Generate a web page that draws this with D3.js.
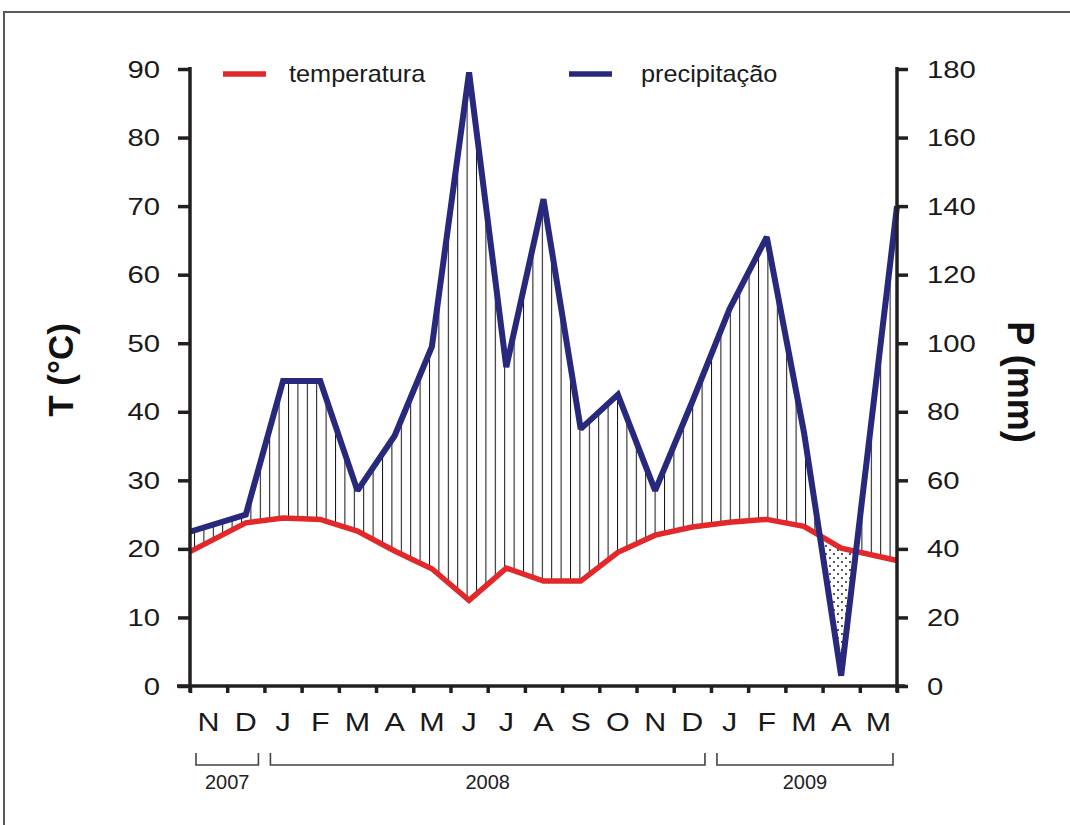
<!DOCTYPE html>
<html>
<head>
<meta charset="utf-8">
<script src="https://cdn.jsdelivr.net/npm/d3@7"></script>
<style>
  html, body { margin: 0; padding: 0; background: #fff; }
  svg { display: block; font-family: "Liberation Sans", Arial, sans-serif; }
</style>
</head>
<body>
<svg id="chart" width="1070" height="825"></svg>
<script>
// Month labels along the time axis (Nov 2007 – May 2009)
const monthLabels = ["N","D","J","F","M","A","M","J","J","A","S","O","N","D","J","F","M","A","M"];

// Observation times in months from the start of Nov 2007
// (series open and close on the axes, monthly values sit mid-month)
const obsTime = [0, 1.5, 2.5, 3.5, 4.5, 5.5, 6.5, 7.5, 8.5, 9.5, 10.5, 11.5, 12.5, 13.5, 14.5, 15.5, 16.5, 17.5, 19];

// Mean temperature (°C)
const temperature = [19.6, 23.8, 24.5, 24.3, 22.6, 19.7, 17.1, 12.5, 17.2, 15.3, 15.3, 19.5, 22.0, 23.2, 23.9, 24.3, 23.3, 20.1, 18.3];

// Precipitation (mm)
const precipitation = [45, 50, 89, 89, 57, 73, 99, 179, 93, 142, 75, 85, 57, 83, 110, 131, 74, 3, 140];

// Axis ticks
const tempTicks = [0, 10, 20, 30, 40, 50, 60, 70, 80, 90];
const precTicks = [0, 20, 40, 60, 80, 100, 120, 140, 160, 180];

// Year groups: [label, first month index, last month index (exclusive)]
const yearGroups = [["2007", 0, 2], ["2008", 2, 14], ["2009", 14, 19]];

const svg = d3.select("#chart");
const axisColor = "#231f20";
const red = "#e2282a";
const blue = "#28287c";
const hstretch = 1.22;

const plotL = 190, plotR = 897, plotT = 69, plotB = 686;

const x = d3.scaleLinear().domain([0, monthLabels.length]).range([plotL, plotR]);
const yT = d3.scaleLinear().domain([0, 90]).range([plotB, plotT]);
const yP = d3.scaleLinear().domain([0, 180]).range([plotB, plotT]);

const pts = obsTime.map((t, i) => ({ t, temp: temperature[i], prec: precipitation[i] }));

// Outer frame
svg.append("rect")
  .attr("x", 4).attr("y", 12).attr("width", 1080).attr("height", 830)
  .attr("fill", "none").attr("stroke", "#5a5a5a").attr("stroke-width", 2);

const defs = svg.append("defs");

// Vertical hatching for the humid period
const hatch = defs.append("pattern")
  .attr("id", "hatch").attr("patternUnits", "userSpaceOnUse")
  .attr("x", plotL + 4).attr("y", 0).attr("width", 9.4).attr("height", 10);
hatch.append("line").attr("x1", 0.5).attr("x2", 0.5).attr("y1", 0).attr("y2", 10)
  .attr("stroke", "#111").attr("stroke-width", 1);

// Dot stipple for the arid period
const dots = defs.append("pattern")
  .attr("id", "dots").attr("patternUnits", "userSpaceOnUse")
  .attr("width", 8).attr("height", 8);
dots.append("circle").attr("cx", 2).attr("cy", 2).attr("r", 0.95).attr("fill", "#111");
dots.append("circle").attr("cx", 6).attr("cy", 6).attr("r", 0.95).attr("fill", "#111");

// Region above the temperature curve and region above the precipitation curve
const aboveTemp = d3.area().x(d => x(d.t)).y0(0).y1(d => yT(d.temp));
const abovePrec = d3.area().x(d => x(d.t)).y0(0).y1(d => yP(d.prec));
defs.append("clipPath").attr("id", "clipAboveTemp").append("path").attr("d", aboveTemp(pts));
defs.append("clipPath").attr("id", "clipAbovePrec").append("path").attr("d", abovePrec(pts));

// Humid: under precipitation and above temperature
svg.append("path")
  .attr("d", d3.area().x(d => x(d.t)).y0(plotB).y1(d => yP(d.prec))(pts))
  .attr("fill", "url(#hatch)").attr("clip-path", "url(#clipAboveTemp)");

// Arid: under temperature and above precipitation
svg.append("path")
  .attr("d", d3.area().x(d => x(d.t)).y0(plotB).y1(d => yT(d.temp))(pts))
  .attr("fill", "url(#dots)").attr("clip-path", "url(#clipAbovePrec)");

// Curves
svg.append("path")
  .attr("d", d3.line().x(d => x(d.t)).y(d => yT(d.temp))(pts))
  .attr("fill", "none").attr("stroke", red).attr("stroke-width", 5.5)
  .attr("stroke-linejoin", "miter").attr("stroke-miterlimit", 2);
svg.append("path")
  .attr("d", d3.line().x(d => x(d.t)).y(d => yP(d.prec))(pts))
  .attr("fill", "none").attr("stroke", blue).attr("stroke-width", 6)
  .attr("stroke-linejoin", "miter").attr("stroke-miterlimit", 2);

// Stretched label helper
function label(g, px, py, text, size, anchor) {
  return g.append("text")
    .attr("transform", `translate(${px},${py}) scale(${hstretch},1)`)
    .attr("text-anchor", anchor)
    .attr("font-size", size)
    .attr("fill", "#1a1a1a")
    .text(text);
}

// Left axis (temperature)
const gl = svg.append("g").attr("transform", `translate(${plotL},0)`);
gl.call(d3.axisLeft(yT).tickValues(tempTicks).tickSize(12).tickFormat(""));
gl.select(".domain").attr("d", `M0,${plotT - 2}V${plotB + 6}`);
gl.selectAll("path, line").attr("stroke", axisColor).attr("stroke-width", 3.5);
tempTicks.forEach(v => label(gl, -30, yT(v) + 8.5, v, 24, "end"));

// Right axis (precipitation)
const gr = svg.append("g").attr("transform", `translate(${plotR},0)`);
gr.call(d3.axisRight(yP).tickValues(precTicks).tickSize(11).tickFormat(""));
gr.select(".domain").attr("d", `M0,${plotT - 2}V${plotB + 6}`);
gr.selectAll("path, line").attr("stroke", axisColor).attr("stroke-width", 3.5);
precTicks.forEach(v => label(gr, 30, yP(v) + 8.5, v, 24, "start"));

// Bottom axis (months)
const gb = svg.append("g").attr("transform", `translate(0,${plotB})`);
gb.call(d3.axisBottom(x).tickValues(d3.range(monthLabels.length + 1)).tickSize(7).tickFormat(""));
gb.select(".domain").attr("d", `M${plotL - 13},0H${plotR + 8}`);
gb.selectAll("path, line").attr("stroke", axisColor).attr("stroke-width", 3.5);
monthLabels.forEach((m, i) => label(gb, x(i + 0.5), 45, m, 25, "middle"));

// Year brackets
const gy = svg.append("g");
yearGroups.forEach(([yr, a, b]) => {
  const x0 = x(a) + 6;
  const x1 = b === monthLabels.length ? x(b) - 4 : x(b) - 6;
  gy.append("path")
    .attr("d", `M${x0},753V765H${x1}V753`)
    .attr("fill", "none").attr("stroke", "#444").attr("stroke-width", 1.6);
  gy.append("text")
    .attr("x", (x0 + x1) / 2).attr("y", 789)
    .attr("text-anchor", "middle").attr("font-size", 20).attr("fill", "#222")
    .text(yr);
});

// Axis titles
svg.append("text")
  .attr("transform", `translate(73,370) rotate(-90)`)
  .attr("text-anchor", "middle").attr("font-size", 35).attr("font-weight", "bold")
  .attr("fill", "#111").text("T (°C)");
svg.append("text")
  .attr("transform", `translate(1008,382) rotate(90)`)
  .attr("text-anchor", "middle").attr("font-size", 36).attr("font-weight", "bold")
  .attr("fill", "#111").text("P (mm)");

// Legend
const legend = [["temperatura", red, 223, 289], ["precipitação", blue, 569, 641]];
legend.forEach(([name, col, lx, tx]) => {
  svg.append("line").attr("x1", lx).attr("x2", lx + 43).attr("y1", 74).attr("y2", 74)
    .attr("stroke", col).attr("stroke-width", 5.5);
  svg.append("text")
    .attr("transform", `translate(${tx},82) scale(1.1,1)`)
    .attr("font-size", 23).attr("fill", "#1a1a1a").text(name);
});
</script>
</body>
</html>
